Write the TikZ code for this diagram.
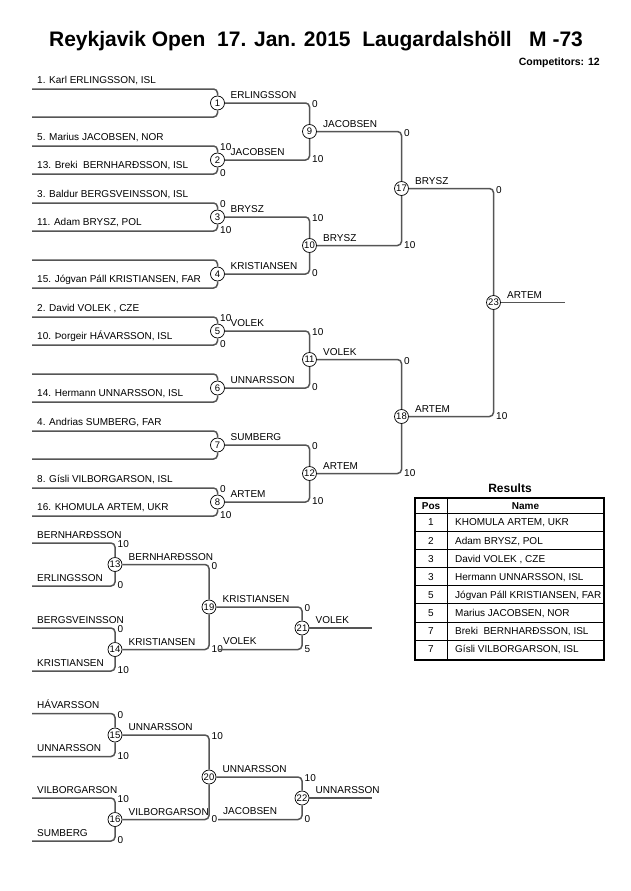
\documentclass[tikz,border=0pt]{standalone}
\usepackage{fontspec}
\setmainfont{Liberation Sans}
\usepackage{xcolor}
\usetikzlibrary{calc}
\definecolor{brackGray}{RGB}{85,85,85}
\newcommand{\txt}{\fontsize{10}{12}\selectfont}

\begin{document}
\begin{tikzpicture}[x=1pt,y=-1pt,
  bout/.style={circle,draw,fill=white,line width=0.7pt,minimum size=14pt,inner sep=0pt,font=\fontsize{9.5}{9.5}\selectfont},
  brack/.style={draw=brackGray,line width=1.5pt,rounded corners=4pt},
  who/.style={anchor=base west,inner sep=0pt,font=\txt},
  pts/.style={anchor=west,inner sep=0pt,font=\txt}]
\useasboundingbox (0,0) rectangle (630,891);
\node[anchor=base,font=\fontsize{21}{24}\selectfont\bfseries] (title) at (316,46.5) {Reykjavik Open\ \ 17. Jan. 2015\ \ Laugardalshöll\ \ \ M -73};
\node[anchor=base east,inner sep=0pt,font=\fontsize{10.5}{12}\selectfont\bfseries] (comp) at (600,66) {Competitors: 12};
\foreach \k/\ta/\tb/\sa/\sb/\w in {
  1/{1. Karl ERLINGSSON, ISL}/{}/{}/{}/ERLINGSSON,
  2/{5. Marius JACOBSEN, NOR}/{13. Breki\ \ BERNHARÐSSON, ISL}/10/0/JACOBSEN,
  3/{3. Baldur BERGSVEINSSON, ISL}/{11. Adam BRYSZ, POL}/0/10/BRYSZ,
  4/{}/{15. Jógvan Páll KRISTIANSEN, FAR}/{}/{}/KRISTIANSEN,
  5/{2. David VOLEK , CZE}/{10. Þorgeir HÁVARSSON, ISL}/10/0/VOLEK,
  6/{}/{14. Hermann UNNARSSON, ISL}/{}/{}/UNNARSSON,
  7/{4. Andrias SUMBERG, FAR}/{}/{}/{}/SUMBERG,
  8/{8. Gísli VILBORGARSON, ISL}/{16. KHOMULA ARTEM, UKR}/0/10/ARTEM}{
  \node[bout] (m\k) at (217.5,{46+57*\k}) {\k};
  \coordinate (t\k) at (32,{32+57*\k});
  \coordinate (b\k) at (32,{60+57*\k});
  \draw[brack] (t\k) -| (m\k);
  \draw[brack] (b\k) -| (m\k);
  \node[who,xshift=5pt,yshift=5.5pt] (nt\k) at (t\k) {\ta};
  \node[who,xshift=5pt,yshift=5.5pt] (nb\k) at (b\k) {\tb};
  \node[pts,xshift=2.5pt,yshift=-1pt] (st\k) at (t\k -| m\k) {\sa};
  \node[pts,xshift=2.5pt,yshift=0.5pt] (sb\k) at (b\k -| m\k) {\sb};
  \node[who,xshift=13pt,yshift=4.5pt] (w\k) at (m\k) {\w};
}
\foreach \m/\x/\y/\a/\b/\sa/\sb/\w in {
  9/309.5/131.5/1/2/0/10/JACOBSEN,
  10/309.5/245.5/3/4/10/0/BRYSZ,
  11/309.5/359.5/5/6/10/0/VOLEK,
  12/309.5/473.5/7/8/0/10/ARTEM,
  17/401.5/188.5/9/10/0/10/BRYSZ,
  18/401.5/416.5/11/12/0/10/ARTEM,
  23/493.5/302.5/17/18/0/10/ARTEM,
  13/115/564.5/{}/{}/10/0/BERNHARÐSSON,
  14/115/649.5/{}/{}/0/10/KRISTIANSEN,
  15/115/735/{}/{}/0/10/UNNARSSON,
  16/115/819.5/{}/{}/10/0/VILBORGARSON,
  19/209/607/13/14/0/10/KRISTIANSEN,
  20/209/777/15/16/10/0/UNNARSSON}{
  \node[bout] (m\m) at (\x,\y) {\m};
  \node[who,xshift=13.5pt,yshift=4.5pt] (w\m) at (m\m) {\w};
}
\foreach \m/\a/\b/\sa/\sb in {9/1/2/0/10,10/3/4/10/0,11/5/6/10/0,12/7/8/0/10,
  17/9/10/0/10,18/11/12/0/10,23/17/18/0/10,19/13/14/0/10,20/15/16/10/0}{
  \draw[brack] (m\a) -| (m\m);
  \draw[brack] (m\b) -| (m\m);
  \node[pts,xshift=2.5pt,yshift=-1.5pt] (st\m) at (m\a -| m\m) {\sa};
  \node[pts,xshift=2.5pt,yshift=0.5pt] (sb\m) at (m\b -| m\m) {\sb};
}
\coordinate (o23) at (565,302.5);
\draw[brack] (m23) -- (o23);
\foreach \m/\ta/\tb/\sa/\sb in {13/BERNHARÐSSON/ERLINGSSON/10/0,14/BERGSVEINSSON/KRISTIANSEN/0/10,
  15/HÁVARSSON/UNNARSSON/0/10,16/VILBORGARSON/SUMBERG/10/0}{
  \coordinate (t\m) at ($(m\m)+(-83,-21.5)$);
  \coordinate (b\m) at ($(m\m)+(-83,21.5)$);
  \draw[brack] (t\m) -| (m\m);
  \draw[brack] (b\m) -| (m\m);
  \node[who,xshift=5pt,yshift=5pt] (nt\m) at (t\m) {\ta};
  \node[who,xshift=5pt,yshift=5pt] (nb\m) at (b\m) {\tb};
  \node[pts,xshift=2.5pt,yshift=-1.5pt] (st\m) at (t\m -| m\m) {\sa};
  \node[pts,xshift=2.5pt,yshift=0.5pt] (sb\m) at (b\m -| m\m) {\sb};
}
\foreach \m/\y/\a/\c/\sa/\sb/\w in {21/628/19/VOLEK/0/5/VOLEK,22/798/20/JACOBSEN/10/0/UNNARSSON}{
  \node[bout] (m\m) at (302,\y) {\m};
  \coordinate (v\m) at (218,{\y+21.5});
  \coordinate (o\m) at (372,\y);
  \draw[brack] (m\a) -| (m\m);
  \draw[brack] (v\m) -| (m\m);
  \draw[brack] (m\m) -- (o\m);
  \node[who,xshift=5pt,yshift=5pt] (nv\m) at (v\m) {\c};
  \node[pts,xshift=2.5pt,yshift=-1.5pt] (st\m) at (m\a -| m\m) {\sa};
  \node[pts,xshift=2.5pt,yshift=0.5pt] (sb\m) at (v\m -| m\m) {\sb};
  \node[who,xshift=13.5pt,yshift=4.5pt] (w\m) at (m\m) {\w};
}
\node[font=\fontsize{12}{14}\selectfont\bfseries] (res) at (510,488) {Results};
\draw[line width=1.5pt] (415,498) rectangle (604,660);
\draw[line width=0.7pt] (447,498) -- (447,660);
\foreach \r in {0,...,7}
  \draw[line width=0.7pt] (415,{513.3+18.1*\r}) -- (604,{513.3+18.1*\r});
\node[anchor=base,inner sep=0pt,font=\txt\bfseries] (hpos) at (431,509.5) {Pos};
\node[anchor=base,inner sep=0pt,font=\txt\bfseries] (hname) at (525.5,509.5) {Name};
\foreach \r/\p/\n in {1/1/{KHOMULA ARTEM, UKR},2/2/{Adam BRYSZ, POL},3/3/{David VOLEK , CZE},
  4/3/{Hermann UNNARSSON, ISL},5/5/{Jógvan Páll KRISTIANSEN, FAR},6/5/{Marius JACOBSEN, NOR},
  7/7/{Breki\ \ BERNHARÐSSON, ISL},8/7/{Gísli VILBORGARSON, ISL}}{
  \node[anchor=base,inner sep=0pt,font=\txt] (p\r) at (431,{507.8+18.1*\r}) {\p};
  \node[anchor=base west,inner sep=0pt,font=\txt] (n\r) at (455,{507.8+18.1*\r}) {\n};
}
\end{tikzpicture}
\end{document}
